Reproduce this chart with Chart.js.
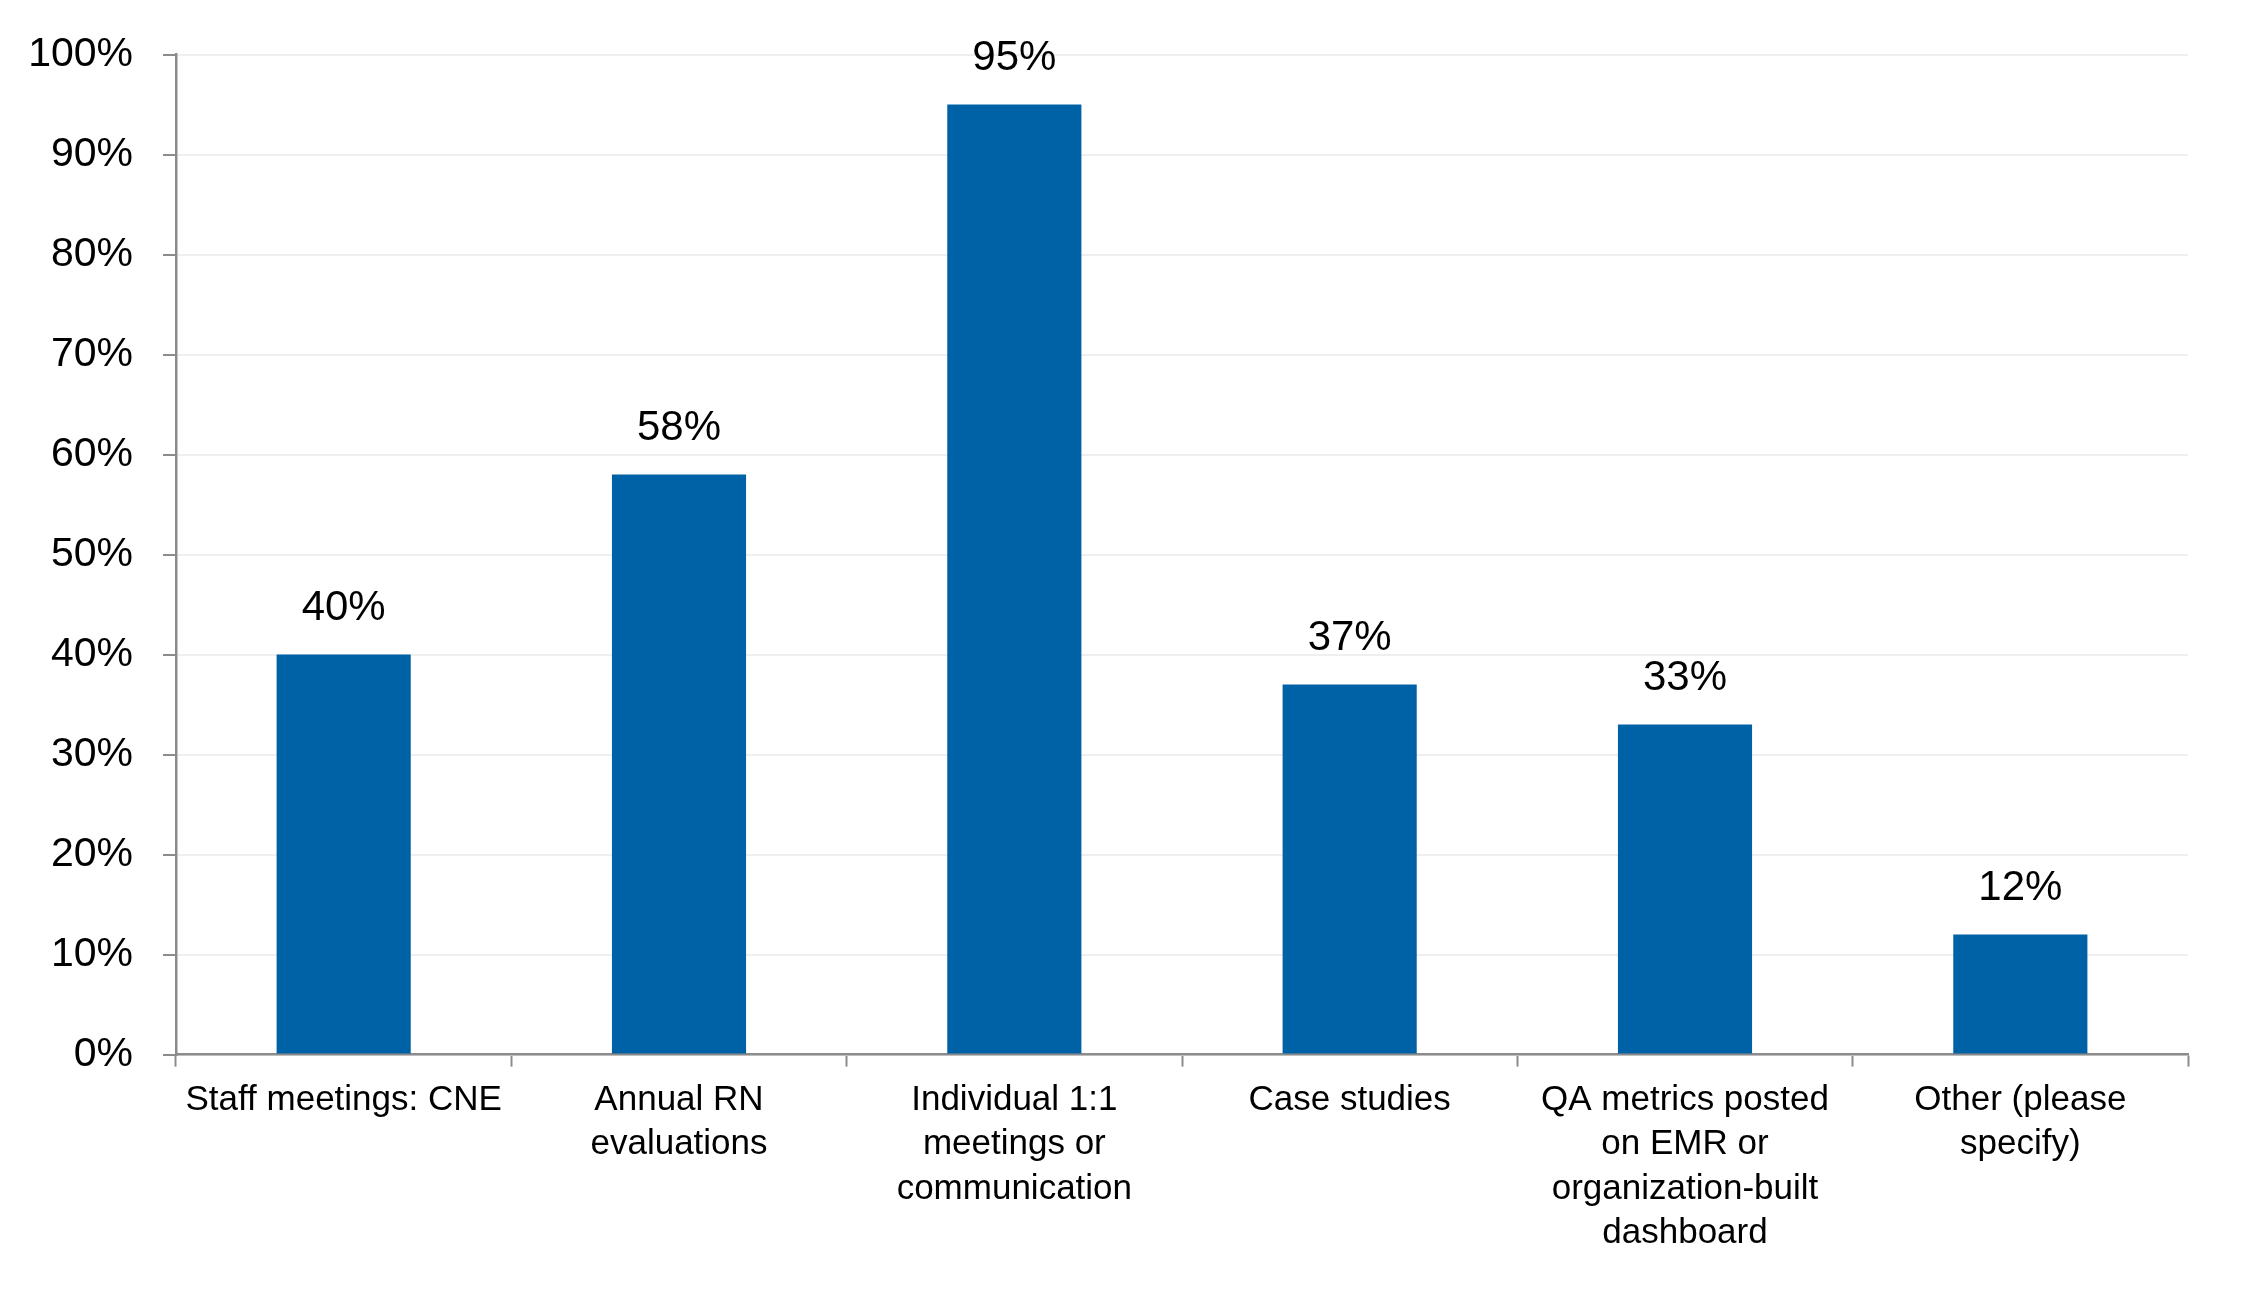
<!DOCTYPE html>
<html>
<head>
<meta charset="utf-8">
<script src="https://cdn.jsdelivr.net/npm/chart.js@4"></script>
<style>
  html, body { margin: 0; padding: 0; background: #fff; }
  #chart { display: block; }
</style>
</head>
<body>
<canvas id="chart" width="2245" height="1292"></canvas>
<script>
// --- Data ---
const categories = [
    'Staff meetings: CNE',
    ['Annual RN', 'evaluations'],
    ['Individual 1:1', 'meetings or', 'communication'],
    'Case studies',
    ['QA metrics posted', 'on EMR or', 'organization-built', 'dashboard'],
    ['Other (please', 'specify)']
];
const percentages = [40, 58, 95, 37, 33, 12];
const yTicks = [0, 10, 20, 30, 40, 50, 60, 70, 80, 90, 100];

const FONT = '"Liberation Sans", Arial, sans-serif';
const BAR_BLUE = '#0062A6';
const AXIS_GREY = '#8c8c8c';

// draws the % value above each bar
const valueLabels = {
    id: 'valueLabels',
    afterDatasetsDraw(chart) {
        const ctx = chart.ctx;
        const meta = chart.getDatasetMeta(0);
        ctx.save();
        ctx.font = '42px ' + FONT;
        ctx.fillStyle = '#000';
        ctx.textAlign = 'center';
        ctx.textBaseline = 'middle';
        meta.data.forEach((bar, i) => {
            ctx.fillText(percentages[i] + '%', bar.x, bar.y - 46);
        });
        ctx.restore();
    }
};

const ctx = document.getElementById('chart').getContext('2d');
new Chart(ctx, {
    type: 'bar',
    data: {
        labels: categories,
        datasets: [{
            data: percentages,
            backgroundColor: BAR_BLUE,
            borderWidth: 0,
            categoryPercentage: 1,
            barPercentage: 0.4
        }]
    },
    options: {
        responsive: false,
        animation: false,
        layout: { padding: { top: 46, right: 57, bottom: 25, left: 0 } },
        plugins: {
            legend: { display: false },
            tooltip: { enabled: false }
        },
        scales: {
            x: {
                grid: {
                    offset: true,
                    drawOnChartArea: false,
                    tickLength: 12,
                    tickColor: AXIS_GREY,
                    tickWidth: 2
                },
                border: { display: true, color: AXIS_GREY, width: 2.5 },
                ticks: {
                    color: '#000',
                    font: { family: FONT, size: 35, lineHeight: 1.26 },
                    padding: 12,
                    maxRotation: 0,
                    autoSkip: false
                }
            },
            y: {
                min: 0,
                max: 100,
                afterBuildTicks(scale) {
                    scale.ticks = yTicks.map(v => ({ value: v }));
                },
                afterFit(scale) {
                    scale.width = 176;
                },
                grid: {
                    color: '#efefef',
                    lineWidth: 2,
                    tickLength: 13,
                    tickColor: AXIS_GREY,
                    tickWidth: 2
                },
                border: { display: true, color: AXIS_GREY, width: 2.5 },
                ticks: {
                    color: '#000',
                    font: { family: FONT, size: 41 },
                    padding: 30,
                    callback: v => v + '%'
                }
            }
        }
    },
    plugins: [valueLabels]
});
</script>
</body>
</html>
